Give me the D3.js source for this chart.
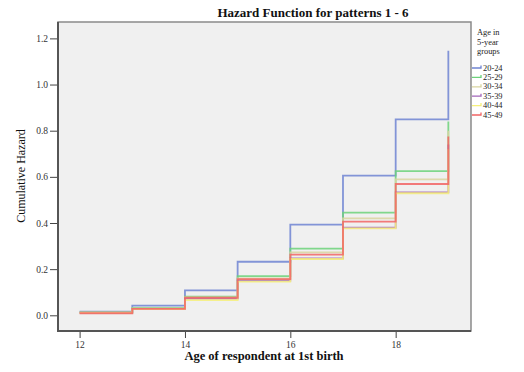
<!DOCTYPE html>
<html>
<head>
<meta charset="utf-8">
<script src="https://cdn.jsdelivr.net/npm/d3@7"></script>
<style>
  html, body { margin: 0; padding: 0; background: #ffffff; }
  svg { display: block; }
  text { font-family: "Liberation Serif", "DejaVu Serif", serif; }
</style>
</head>
<body>
<svg id="chart" width="524" height="372"></svg>
<script>
// Age at first birth (step boundaries)
const ages = [12, 13, 14, 15, 16, 17, 18, 19];

// Age groups shown in the legend
const groups = ["20-24", "25-29", "30-34", "35-39", "40-44", "45-49"];

// Cumulative hazard per group, value at the start of each step
const hazard2024 = [0.016, 0.042, 0.108, 0.232, 0.393, 0.605, 0.849, 1.146];
const hazard2529 = [0.013, 0.032, 0.081, 0.170, 0.289, 0.445, 0.625, 0.840];
const hazard3034 = [0.012, 0.030, 0.078, 0.160, 0.273, 0.420, 0.589, 0.800];
const hazard3539 = [0.011, 0.028, 0.072, 0.150, 0.247, 0.380, 0.533, 0.740];
const hazard4044 = [0.011, 0.027, 0.066, 0.146, 0.244, 0.377, 0.529, 0.720];
const hazard4549 = [0.009, 0.028, 0.076, 0.157, 0.263, 0.406, 0.569, 0.775];

const xTicks = [12, 14, 16, 18];
const yTicks = [0.0, 0.2, 0.4, 0.6, 0.8, 1.0, 1.2];

const seriesValues = [hazard2024, hazard2529, hazard3034, hazard3539, hazard4044, hazard4549];
const colors = ["#6f84d2", "#6cd27a", "#d9d5a0", "#a266bb", "#f6f07a", "#f26464"];

const svg = d3.select("#chart");

const frame = { left: 58, right: 471, top: 22, bottom: 331 };

const x = d3.scaleLinear().domain([11.59, 19.43]).range([frame.left, frame.right]);
const y = d3.scaleLinear().domain([-0.068, 1.271]).range([frame.bottom, frame.top]);

// Plot background
svg.append("rect")
  .attr("x", frame.left).attr("y", frame.top)
  .attr("width", frame.right - frame.left).attr("height", frame.bottom - frame.top)
  .attr("fill", "#f0f0f0");

// Step lines
const line = d3.line()
  .x(d => x(d[0]))
  .y(d => y(d[1]))
  .curve(d3.curveStepAfter);

seriesValues.forEach((vals, i) => {
  svg.append("path")
    .datum(ages.map((a, j) => [a, vals[j]]))
    .attr("d", line)
    .attr("fill", "none")
    .attr("stroke", colors[i])
    .attr("stroke-width", 1.8)
    .attr("stroke-opacity", 0.85);
});

// Frame
svg.append("rect")
  .attr("x", frame.left).attr("y", frame.top)
  .attr("width", frame.right - frame.left).attr("height", frame.bottom - frame.top)
  .attr("fill", "none")
  .attr("stroke", "#8a8a8a")
  .attr("stroke-width", 1.5);
svg.append("path")
  .attr("d", `M${frame.left},${frame.top}V${frame.bottom}H${frame.right}`)
  .attr("fill", "none")
  .attr("stroke", "#555")
  .attr("stroke-width", 2);

// Axes
const yAxis = d3.axisLeft(y)
  .tickValues(yTicks)
  .tickFormat(d3.format(".1f"))
  .tickSize(7)
  .tickPadding(2);
const gy = svg.append("g").attr("transform", `translate(${frame.left - 1},0)`).call(yAxis);
gy.select(".domain").remove();
gy.selectAll(".tick line").attr("stroke", "#444");
gy.selectAll(".tick text")
  .attr("fill", "#333")
  .style("font-family", "'Liberation Serif', serif")
  .style("font-size", "9.5px");

const xAxis = d3.axisBottom(x)
  .tickValues(xTicks)
  .tickFormat(d3.format("d"))
  .tickSize(6)
  .tickPadding(3);
const gx = svg.append("g").attr("transform", `translate(0,${frame.bottom + 1})`).call(xAxis);
gx.select(".domain").remove();
gx.selectAll(".tick line").attr("stroke", "#444");
gx.selectAll(".tick text")
  .attr("fill", "#333")
  .style("font-family", "'Liberation Serif', serif")
  .style("font-size", "9.5px");

// Titles
svg.append("text")
  .attr("x", 313).attr("y", 17)
  .attr("text-anchor", "middle")
  .attr("font-weight", "bold")
  .attr("font-size", 13)
  .attr("fill", "#111")
  .text("Hazard Function for patterns 1 - 6");

svg.append("text")
  .attr("x", 264).attr("y", 360)
  .attr("text-anchor", "middle")
  .attr("font-weight", "bold")
  .attr("font-size", 12.5)
  .attr("fill", "#111")
  .text("Age of respondent at 1st birth");

svg.append("text")
  .attr("transform", "translate(25,176) rotate(-90)")
  .attr("text-anchor", "middle")
  .attr("font-size", 12)
  .attr("fill", "#111")
  .text("Cumulative Hazard");

// Legend
const legend = svg.append("g");
["Age in", "5-year", "groups"].forEach((t, i) => {
  legend.append("text")
    .attr("x", 477).attr("y", 35 + i * 9.5)
    .attr("font-size", 8.4)
    .attr("fill", "#222")
    .text(t);
});
groups.forEach((g, i) => {
  const ly = 68 + i * 9.4;
  legend.append("path")
    .attr("d", `M472,${ly}H481V${ly - 2.5}`)
    .attr("fill", "none")
    .attr("stroke", colors[i])
    .attr("stroke-width", 1.3);
  legend.append("text")
    .attr("x", 483).attr("y", ly + 2.5)
    .attr("font-size", 8.4)
    .attr("fill", "#222")
    .text(g);
});
</script>
</body>
</html>
